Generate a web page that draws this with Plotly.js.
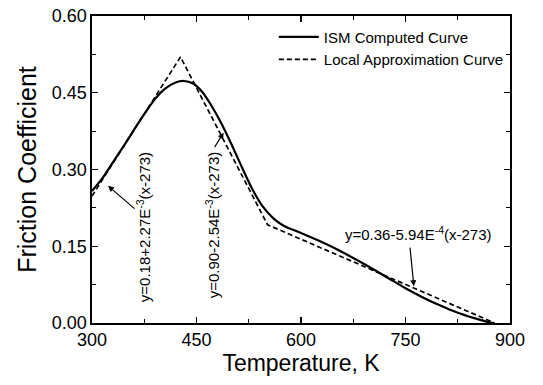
<!DOCTYPE html>
<html>
<head>
<meta charset="utf-8">
<script src="https://cdn.plot.ly/plotly-3.0.1.min.js"></script>
<style>html,body{margin:0;padding:0;background:#fff;}#chart{width:543px;height:385px;}</style>
</head>
<body>
<div id="chart"></div>
<script>
// ISM computed curve
var ismT = [300, 315, 330, 345, 360, 375, 390, 405, 420, 432, 445, 458, 470, 485, 500, 515, 530, 545, 560, 575, 600, 625, 650, 675, 700, 725, 750, 775, 800, 825, 850, 868, 877];
var ismMu = [0.258, 0.283, 0.314, 0.345, 0.377, 0.408, 0.437, 0.458, 0.470, 0.473, 0.468, 0.452, 0.428, 0.392, 0.350, 0.305, 0.262, 0.228, 0.205, 0.190, 0.176, 0.161, 0.145, 0.127, 0.108, 0.088, 0.068, 0.050, 0.034, 0.020, 0.009, 0.002, 0.0];
// Local approximation curve vertices
var approxT = [300, 427, 552, 878];
var approxMu = [0.248, 0.520, 0.192, 0.0];

var seriesNames = ["ISM Computed Curve", "Local Approximation Curve"];
var xTicks = [300, 450, 600, 750, 900];
var yTicks = [0.00, 0.15, 0.30, 0.45, 0.60];
var yTickText = ["0.00", "0.15", "0.30", "0.45", "0.60"];
var eqTexts = ["y=0.18+2.27E<sup>-3</sup>(x-273)", "y=0.90-2.54E<sup>-3</sup>(x-273)", "y=0.36-5.94E<sup>-4</sup>(x-273)"];

var FONT = "'Liberation Sans', Arial, sans-serif";

var traces = [
  {x: ismT, y: ismMu, name: seriesNames[0], mode: "lines", line: {color: "#000", width: 2.2, shape: "spline", smoothing: 0.8}},
  {x: approxT, y: approxMu, name: seriesNames[1], mode: "lines", line: {color: "#000", width: 1.7, dash: "5px,3px"}}
];

var axisCommon = {
  showgrid: false, zeroline: false, showline: true, linecolor: "#000", linewidth: 1.6,
  mirror: "allticks", ticks: "inside", ticklen: 6, tickwidth: 1.3, tickcolor: "#000",
  tickfont: {family: FONT, size: 18, color: "#000"}
};

var layout = {
  width: 543, height: 385,
  margin: {l: 92, r: 33, t: 16, b: 62},
  paper_bgcolor: "#fff", plot_bgcolor: "#fff",
  showlegend: true,
  legend: {x: 0.435, y: 0.985, xanchor: "left", yanchor: "top", bgcolor: "rgba(0,0,0,0)",
           font: {family: FONT, size: 15, color: "#000"}, tracegroupgap: 0, itemwidth: 40},
  xaxis: Object.assign({}, axisCommon, {
    range: [300, 900], tickvals: xTicks, ticktext: xTicks.map(String),
    minor: {tickvals: [375, 525, 675, 825], ticklen: 4, tickwidth: 1.2, tickcolor: "#000", ticks: "inside", showgrid: false},
    title: {text: "Temperature, K", font: {family: FONT, size: 23, color: "#000"}, standoff: 4}
  }),
  yaxis: Object.assign({}, axisCommon, {
    range: [0, 0.6], tickvals: yTicks, ticktext: yTickText,
    minor: {tickvals: [0.075, 0.225, 0.375, 0.525], ticklen: 4, tickwidth: 1.2, tickcolor: "#000", ticks: "inside", showgrid: false},
    title: {text: "Friction Coefficient", font: {family: FONT, size: 25, color: "#000"}, standoff: 8}
  }),
  annotations: [
    {x: 373, y: 0.187, xref: "x", yref: "y", text: eqTexts[0], showarrow: false, textangle: -90,
     font: {family: FONT, size: 15, color: "#000"}},
    {x: 323, y: 0.268, xref: "x", yref: "y", text: "", showarrow: true, ax: 28, ay: 24,
     arrowhead: 2, arrowsize: 1, arrowwidth: 1.2, arrowcolor: "#000", standoff: 0},
    {x: 473, y: 0.192, xref: "x", yref: "y", text: eqTexts[1], showarrow: false, textangle: -90,
     font: {family: FONT, size: 15, color: "#000"}},
    {x: 489, y: 0.372, xref: "x", yref: "y", text: "", showarrow: true, ax: -10, ay: 16,
     arrowhead: 2, arrowsize: 1, arrowwidth: 1.2, arrowcolor: "#000", standoff: 0},
    {x: 768, y: 0.175, xref: "x", yref: "y", text: eqTexts[2], showarrow: false,
     font: {family: FONT, size: 15, color: "#000"}},
    {x: 762, y: 0.072, xref: "x", yref: "y", text: "", showarrow: true, ax: -4, ay: -40,
     arrowhead: 2, arrowsize: 1, arrowwidth: 1.2, arrowcolor: "#000", standoff: 0}
  ]
};

Plotly.newPlot("chart", traces, layout, {staticPlot: true, displayModeBar: false});
</script>
</body>
</html>
